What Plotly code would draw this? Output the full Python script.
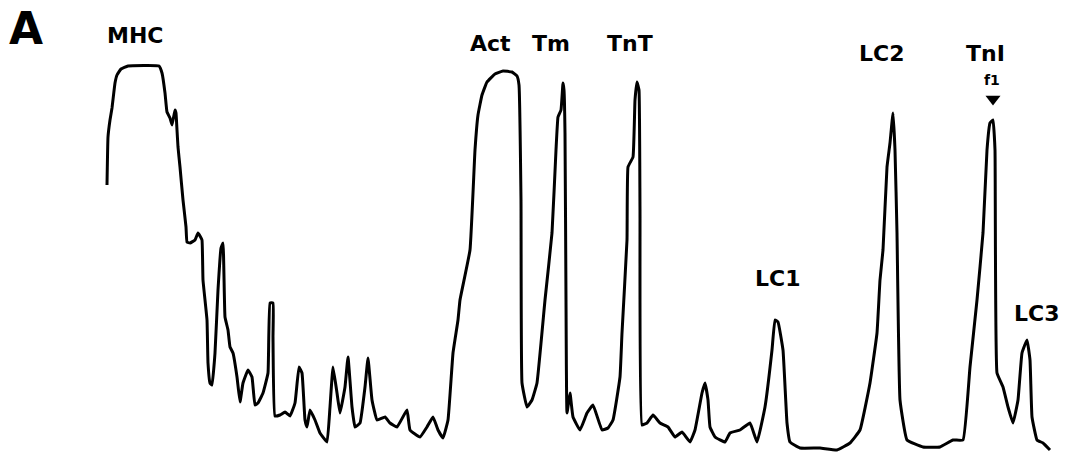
import plotly.graph_objects as go

# Densitometric scan of a myofibrillar protein gel lane.
# position: migration distance along the lane (arbitrary units)
# absorbance: optical density at that position (arbitrary units)
position = [
    107, 108, 110, 112, 115, 117, 121, 128, 159, 162, 165, 167, 170, 172, 175, 176,
    177, 178, 180, 183, 186, 187, 190, 195, 198, 200, 202, 203, 207, 208, 210, 212,
    215, 218, 221, 223, 225, 228, 230, 233, 237, 240, 243, 248, 252, 255, 258, 263,
    268, 270, 273, 273, 275, 280, 285, 290, 295, 299, 302, 305, 307, 310, 315, 320,
    327, 330, 333, 337, 340, 345, 348, 352, 355, 360, 365, 368, 372, 377, 385, 390,
    397, 407, 410, 420, 427, 433, 438, 443, 448, 453, 458, 460, 470, 475, 478, 482,
    487, 495, 503, 512, 517, 519, 521, 522, 527, 532, 537, 545, 552, 556, 558, 561,
    563, 564, 565, 566, 567, 570, 573, 580, 587, 593, 602, 608, 613, 620, 622, 627,
    628, 633, 635, 637, 639, 640, 642, 647, 653, 660, 668, 675, 682, 690, 695, 702,
    705, 708, 710, 715, 725, 730, 740, 750, 757, 765, 772, 775, 778, 783, 787, 790,
    800, 820, 837, 850, 860, 870, 877, 880, 883, 887, 890, 893, 895, 897, 900, 907,
    923, 940, 953, 963, 970, 977, 983, 987, 990, 993, 995, 997, 1003, 1008, 1013,
    1018, 1022, 1027, 1030, 1032, 1037, 1043, 1050,
]
absorbance = [
    276, 324, 341, 353, 378, 386, 392, 395, 395, 388, 368, 349, 343, 336, 351, 348,
    331, 314, 294, 261, 234, 219, 218, 221, 228, 225, 221, 181, 141, 98, 78, 76,
    108, 171, 213, 218, 144, 131, 114, 108, 84, 59, 78, 91, 84, 56, 58, 68,
    88, 158, 158, 124, 45, 46, 49, 45, 58, 94, 88, 41, 34, 51, 41, 28,
    19, 54, 94, 68, 48, 74, 104, 54, 34, 38, 74, 103, 61, 41, 44, 38,
    34, 51, 31, 24, 34, 44, 31, 23, 41, 108, 141, 161, 211, 311, 346, 366,
    379, 387, 390, 389, 385, 376, 261, 78, 54, 61, 78, 161, 228, 311, 344, 351,
    378, 371, 328, 161, 48, 68, 44, 31, 48, 56, 31, 33, 41, 84, 128, 221,
    294, 304, 361, 379, 371, 251, 36, 38, 46, 38, 34, 24, 29, 19, 31, 68,
    78, 61, 34, 24, 19, 28, 31, 38, 19, 54, 111, 141, 139, 111, 38, 19,
    13, 13, 11, 18, 31, 78, 128, 181, 211, 294, 318, 348, 311, 228, 61, 21,
    14, 14, 21, 21, 94, 161, 228, 311, 338, 341, 311, 88, 74, 54, 38,
    61, 108, 121, 101, 44, 21, 18, 11,
]

# Band labels: name, position, height of the label
band_names = ["MHC", "Act", "Tm", "TnT", "LC1", "LC2", "TnI", "LC3"]
band_label_x = [135, 490, 551, 630, 777, 881, 985, 1036]
band_label_y = [426, 418, 418, 418, 183, 408, 408, 148]

FONT = "DejaVu Sans"

fig = go.Figure()

fig.add_trace(go.Scatter(
    x=position, y=absorbance, mode="lines",
    line=dict(color="#000000", width=3, shape="spline", smoothing=0.3),
    hoverinfo="skip", showlegend=False,
))

# Arrow marking the f1 band under TnI
fig.add_trace(go.Scatter(
    x=[993], y=[362], mode="markers",
    marker=dict(symbol="triangle-down", size=13, color="#000000"),
    hoverinfo="skip", showlegend=False,
))

for name, bx, by in zip(band_names, band_label_x, band_label_y):
    fig.add_annotation(
        x=bx, y=by, text=name, showarrow=False,
        font=dict(family=FONT, size=22, color="#000000", weight="bold"),
        xanchor="center", yanchor="middle",
    )

fig.add_annotation(
    x=992, y=381, text="f1", showarrow=False,
    font=dict(family=FONT, size=14, color="#000000", weight="bold"),
    xanchor="center", yanchor="middle",
)

# Panel letter
fig.add_annotation(
    x=26, y=433, text="A", showarrow=False,
    font=dict(family=FONT, size=44, color="#000000", weight="bold"),
    xanchor="center", yanchor="middle",
)

fig.update_xaxes(range=[0, 1067], visible=False, fixedrange=True)
fig.update_yaxes(range=[0, 461], visible=False, fixedrange=True)
fig.update_layout(
    width=1067, height=461,
    margin=dict(l=0, r=0, t=0, b=0),
    paper_bgcolor="#ffffff", plot_bgcolor="#ffffff",
)

fig.write_html("out.html")
